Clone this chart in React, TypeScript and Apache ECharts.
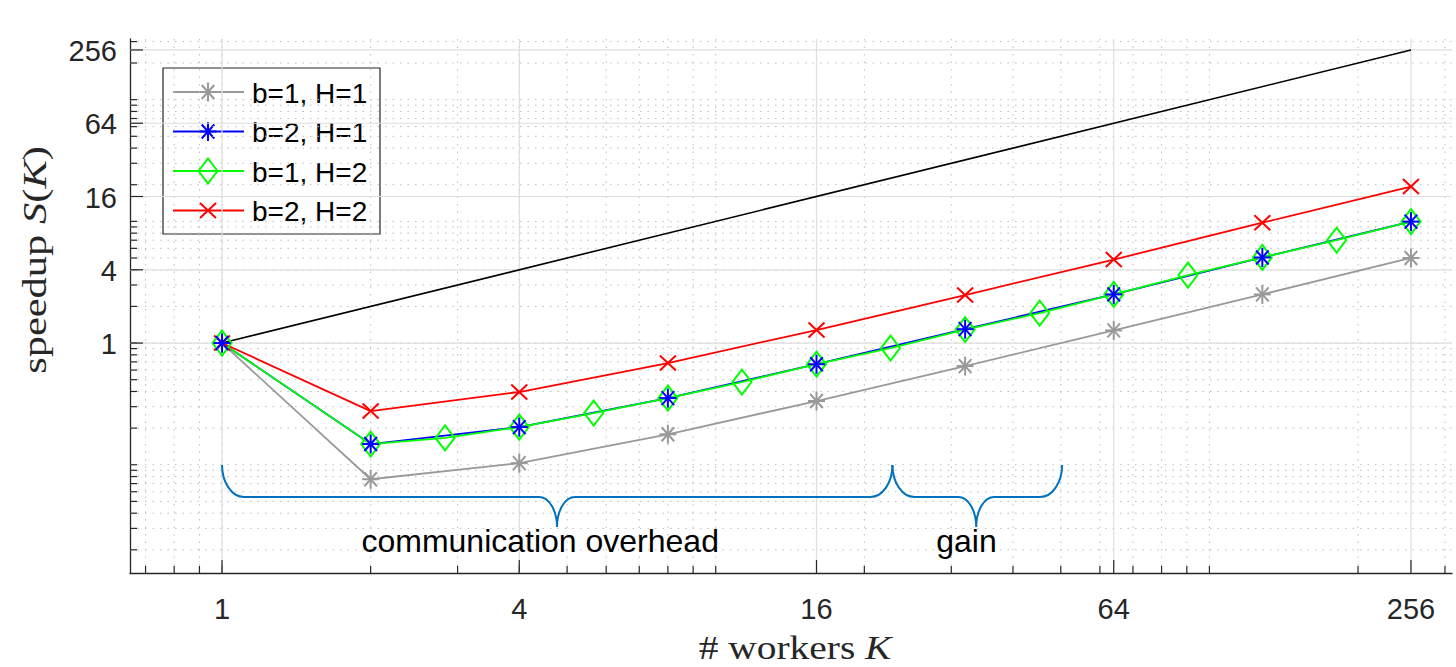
import { useEffect, useRef } from "react";
import * as echarts from "echarts";

// ---------------- data ----------------
const kCoarse = [1, 2, 4, 8, 16, 32, 64, 128, 256];
const kFine = [1, 2, 2.83, 4, 5.66, 8, 11.3, 16, 22.6, 32, 45.3, 64, 90.5, 128, 181, 256];
const speedupB1H1 = [1, 0.076, 0.103, 0.178, 0.334, 0.647, 1.27, 2.51, 5.0];
const speedupB2H1 = [1, 0.148, 0.204, 0.353, 0.67, 1.3, 2.51, 5.05, 9.95];
const speedupB1H2 = [1, 0.148, 0.166, 0.204, 0.266, 0.353, 0.478, 0.67, 0.91, 1.29, 1.76, 2.51, 3.62, 5.05, 7.0, 9.95];
const speedupB2H2 = [1, 0.276, 0.396, 0.685, 1.28, 2.48, 4.85, 9.75, 19.3];
const kIdeal = [1, 256];
const speedupIdeal = [1, 256];

const seriesNames = ["b=1, H=1", "b=2, H=1", "b=1, H=2", "b=2, H=2"];

const xMajorTicks = [1, 4, 16, 64, 256];
const yMajorTicks = [1, 4, 16, 64, 256];
const xMinorTicks = [0.7, 0.8, 0.9, 1, 2, 3, 4, 5, 6, 7, 8, 9, 10, 20, 30, 40, 50, 60, 70, 80, 90, 100, 200, 300];
const yMinorTicks = [
  0.02, 0.03, 0.04, 0.05, 0.06, 0.07, 0.08, 0.09, 0.1, 0.2, 0.3, 0.4, 0.5, 0.6, 0.7, 0.8, 0.9,
  1, 2, 3, 4, 5, 6, 7, 8, 9, 10, 20, 30, 40, 50, 60, 70, 80, 90, 100, 200, 300,
];

const xTitle = "# workers ";
const xTitleVar = "K";
const yTitle = "speedup ";

// annotation braces (data coordinates): left, right, tip
const braceLabels = ["communication overhead", "gain"];
const braceLeft = [1, 22.8];
const braceRight = [22.8, 50.3];
const braceTip = [4.77, 33.7];
const braceLabelX = [4.41, 32.2];

// ---------------- layout / style ----------------
const X_MIN = 0.651;
const X_MAX = 310;
const Y_MIN = 0.0129;
const Y_MAX = 315;
const BRACE_TOP = 0.0994;
const BRACE_BAR = 0.0543;
const BRACE_TIP = 0.0308;
const BRACE_TEXT_Y = 0.0236;

const AXIS = "#262626";
const MAJOR_GRID = "#dedede";
const MINOR_GRID = "#bdbdbd";
const GRAY = "#999999";
const BLUE = "#0000ff";
const GREEN = "#00ff00";
const RED = "#ff0000";
const BRACE = "#0072bd";
const SANS = "'Liberation Sans', Arial, Helvetica, sans-serif";
const SERIF = "'Liberation Serif', 'Times New Roman', serif";
const LW = 1.8;
const MW = 2;

type Kind = "asterisk" | "diamond" | "cross";

function markerEls(kind: Kind, cx: number, cy: number, color: string): any[] {
  const st = () => ({ stroke: color, lineWidth: MW, fill: "none" });
  if (kind === "asterisk") {
    const w = 8.5, h = 9.5, dw = 6.3, dh = 7;
    return [
      { type: "line", shape: { x1: cx, y1: cy - h, x2: cx, y2: cy + h }, style: st() },
      { type: "line", shape: { x1: cx - w, y1: cy, x2: cx + w, y2: cy }, style: st() },
      { type: "line", shape: { x1: cx - dw, y1: cy - dh, x2: cx + dw, y2: cy + dh }, style: st() },
      { type: "line", shape: { x1: cx - dw, y1: cy + dh, x2: cx + dw, y2: cy - dh }, style: st() },
    ];
  }
  if (kind === "cross") {
    const w = 8, h = 7.5;
    return [
      { type: "line", shape: { x1: cx - w, y1: cy - h, x2: cx + w, y2: cy + h }, style: st() },
      { type: "line", shape: { x1: cx - w, y1: cy + h, x2: cx + w, y2: cy - h }, style: st() },
    ];
  }
  const w = 9.5, h = 12.5;
  return [
    {
      type: "polygon",
      shape: { points: [[cx, cy - h], [cx + w, cy], [cx, cy + h], [cx - w, cy]] },
      style: st(),
    },
  ];
}

function lineSeries(ks: number[], vs: number[], color: string, width = LW) {
  return {
    type: "line",
    data: ks.map((k, i) => [k, vs[i]]),
    showSymbol: false,
    symbol: "none",
    silent: true,
    z: 3,
    lineStyle: { color, width },
  };
}

function markerSeries(ks: number[], vs: number[], kind: Kind, color: string) {
  return {
    type: "custom",
    coordinateSystem: "cartesian2d",
    silent: true,
    clip: false,
    z: 4,
    data: ks.map((k, i) => [k, vs[i]]),
    encode: { x: 0, y: 1 },
    renderItem: (_p: any, api: any) => {
      const pt = api.coord([api.value(0), api.value(1)]);
      return { type: "group", children: markerEls(kind, pt[0], pt[1], color) };
    },
  };
}

function labelText(text: string, x: number, y: number, align: string, vAlign: string, size: number, font = SANS) {
  return {
    type: "text",
    x,
    y,
    style: {
      text,
      fontFamily: font,
      fontSize: size,
      fill: AXIS,
      align,
      verticalAlign: vAlign,
      textAlign: align,
      textVerticalAlign: vAlign,
    },
  };
}

export default function App() {
  const ref = useRef<HTMLDivElement>(null);

  useEffect(() => {
    if (!ref.current) return;
    const chart = echarts.init(ref.current, null, { renderer: "svg" });

    const xMinorSeries = {
      type: "custom",
      coordinateSystem: "cartesian2d",
      silent: true,
      clip: false,
      z: 1,
      data: xMinorTicks.map((v) => [v, 1]),
      encode: { x: 0, y: 1 },
      renderItem: (_p: any, api: any) => {
        const v = api.value(0);
        const top = api.coord([v, Y_MAX]);
        const bot = api.coord([v, Y_MIN]);
        return {
          type: "group",
          children: [
            { type: "line", shape: { x1: top[0], y1: top[1], x2: bot[0], y2: bot[1] }, style: { stroke: MINOR_GRID, lineWidth: 1, lineDash: [1.5, 6] } },
            { type: "line", shape: { x1: bot[0], y1: bot[1], x2: bot[0], y2: bot[1] - 7 }, style: { stroke: AXIS, lineWidth: 1.2 } },
          ],
        };
      },
    };

    const yMinorSeries = {
      type: "custom",
      coordinateSystem: "cartesian2d",
      silent: true,
      clip: false,
      z: 1,
      data: yMinorTicks.map((v) => [1, v]),
      encode: { x: 0, y: 1 },
      renderItem: (_p: any, api: any) => {
        const v = api.value(1);
        const l = api.coord([X_MIN, v]);
        const r = api.coord([X_MAX, v]);
        return {
          type: "group",
          children: [
            { type: "line", shape: { x1: l[0], y1: l[1], x2: r[0], y2: r[1] }, style: { stroke: MINOR_GRID, lineWidth: 1, lineDash: [1.5, 6] } },
            { type: "line", shape: { x1: l[0], y1: l[1], x2: l[0] + 7, y2: l[1] }, style: { stroke: AXIS, lineWidth: 1.2 } },
          ],
        };
      },
    };

    const xMajorSeries = {
      type: "custom",
      coordinateSystem: "cartesian2d",
      silent: true,
      clip: false,
      z: 2,
      data: xMajorTicks.map((v) => [v, 1]),
      encode: { x: 0, y: 1 },
      renderItem: (_p: any, api: any) => {
        const v = api.value(0);
        const top = api.coord([v, Y_MAX]);
        const bot = api.coord([v, Y_MIN]);
        return {
          type: "group",
          children: [
            { type: "line", shape: { x1: top[0], y1: top[1], x2: bot[0], y2: bot[1] }, style: { stroke: MAJOR_GRID, lineWidth: 1.2 } },
            { type: "line", shape: { x1: bot[0], y1: bot[1], x2: bot[0], y2: bot[1] - 13 }, style: { stroke: AXIS, lineWidth: 1.2 } },
            labelText(String(v), bot[0], bot[1] + 36, "center", "middle", 29),
          ],
        };
      },
    };

    const yMajorSeries = {
      type: "custom",
      coordinateSystem: "cartesian2d",
      silent: true,
      clip: false,
      z: 2,
      data: yMajorTicks.map((v) => [1, v]),
      encode: { x: 0, y: 1 },
      renderItem: (_p: any, api: any) => {
        const v = api.value(1);
        const l = api.coord([X_MIN, v]);
        const r = api.coord([X_MAX, v]);
        return {
          type: "group",
          children: [
            { type: "line", shape: { x1: l[0], y1: l[1], x2: r[0], y2: r[1] }, style: { stroke: MAJOR_GRID, lineWidth: 1.2 } },
            { type: "line", shape: { x1: l[0], y1: l[1], x2: l[0] + 13, y2: l[1] }, style: { stroke: AXIS, lineWidth: 1.2 } },
            labelText(String(v), l[0] - 13, l[1] + 1, "right", "middle", 29),
          ],
        };
      },
    };

    const braceSeries = {
      type: "custom",
      coordinateSystem: "cartesian2d",
      silent: true,
      clip: false,
      z: 5,
      data: braceLabels.map((_, i) => [braceLeft[i], BRACE_TOP, braceRight[i], braceTip[i], braceLabelX[i]]),
      encode: { x: 0, y: 1 },
      renderItem: (params: any, api: any) => {
        const i = params.dataIndex;
        const [xl, yt] = api.coord([api.value(0), BRACE_TOP]);
        const xr = api.coord([api.value(2), BRACE_TOP])[0];
        const [xm, yb] = api.coord([api.value(3), BRACE_BAR]);
        const yp = api.coord([api.value(3), BRACE_TIP])[1];
        const tx = api.coord([api.value(4), BRACE_TEXT_Y]);
        const k = 0.5523;
        const rx = 22, rm = 18;
        const ry = yb - yt, rp = yp - yb;
        const d =
          `M${xl},${yt} C${xl},${yt + k * ry} ${xl + rx * (1 - k)},${yb} ${xl + rx},${yb} ` +
          `L${xm - rm},${yb} C${xm - rm + k * rm},${yb} ${xm},${yp - k * rp} ${xm},${yp} ` +
          `C${xm},${yp - k * rp} ${xm + rm * (1 - k)},${yb} ${xm + rm},${yb} ` +
          `L${xr - rx},${yb} C${xr - rx * (1 - k)},${yb} ${xr},${yt + k * ry} ${xr},${yt}`;
        return {
          type: "group",
          children: [
            { type: "path", shape: { pathData: d }, style: { stroke: BRACE, lineWidth: 2, fill: "none" } },
            {
              type: "text",
              x: tx[0],
              y: tx[1],
              style: {
                text: braceLabels[i],
                fontFamily: SANS,
                fontSize: 32,
                fill: "#000000",
                align: "center",
                verticalAlign: "middle",
                textAlign: "center",
                textVerticalAlign: "middle",
              },
            },
          ],
        };
      },
    };

    // legend
    const legendKinds: Kind[] = ["asterisk", "asterisk", "diamond", "cross"];
    const legendColors = [GRAY, BLUE, GREEN, RED];
    const legendRows = [92, 131.5, 171, 210.5];
    const legendChildren: any[] = [
      { type: "rect", shape: { x: 163, y: 68, width: 217, height: 166 }, style: { fill: "#ffffff", stroke: AXIS, lineWidth: 1.2 } },
    ];
    seriesNames.forEach((name, i) => {
      const y = legendRows[i];
      legendChildren.push({ type: "line", shape: { x1: 173, y1: y, x2: 244, y2: y }, style: { stroke: legendColors[i], lineWidth: LW } });
      markerEls(legendKinds[i], 208, y, legendColors[i]).forEach((e) => legendChildren.push(e));
      legendChildren.push({
        type: "text",
        x: 252,
        y: y + 1,
        style: { text: name, fontFamily: SANS, fontSize: 28, fill: "#000000", align: "left", verticalAlign: "middle", textAlign: "left", textVerticalAlign: "middle" },
      });
    });

    const richBase = { fontFamily: SERIF, fontSize: 34, lineHeight: 34, fill: AXIS };
    const richIt = { fontFamily: SERIF, fontSize: 34, lineHeight: 34, fill: AXIS, fontStyle: "italic" };

    chart.setOption({
      animation: false,
      backgroundColor: "#ffffff",
      grid: { left: 130, right: 4, top: 39, bottom: 94, containLabel: false },
      xAxis: {
        type: "log",
        logBase: 2,
        min: X_MIN,
        max: X_MAX,
        axisLine: { show: true, onZero: false, lineStyle: { color: AXIS, width: 1.3 } },
        axisTick: { show: false },
        axisLabel: { show: false },
        splitLine: { show: false },
        minorTick: { show: false },
        minorSplitLine: { show: false },
      },
      yAxis: {
        type: "log",
        logBase: 2,
        min: Y_MIN,
        max: Y_MAX,
        axisLine: { show: true, onZero: false, lineStyle: { color: AXIS, width: 1.3 } },
        axisTick: { show: false },
        axisLabel: { show: false },
        splitLine: { show: false },
        minorTick: { show: false },
        minorSplitLine: { show: false },
      },
      series: [
        yMinorSeries,
        xMinorSeries,
        yMajorSeries,
        xMajorSeries,
        lineSeries(kCoarse, speedupB1H1, GRAY),
        lineSeries(kCoarse, speedupB2H1, BLUE),
        lineSeries(kFine, speedupB1H2, GREEN),
        lineSeries(kCoarse, speedupB2H2, RED),
        lineSeries(kIdeal, speedupIdeal, "#000000", 1.6),
        markerSeries(kCoarse, speedupB1H1, "asterisk", GRAY),
        markerSeries(kCoarse, speedupB2H2, "cross", RED),
        markerSeries(kFine, speedupB1H2, "diamond", GREEN),
        markerSeries(kCoarse, speedupB2H1, "asterisk", BLUE),
        braceSeries,
      ],
      graphic: [
        { type: "group", z: 10, children: legendChildren },
        {
          type: "text",
          z: 10,
          x: 795,
          y: 647,
          scaleX: 1.16,
          style: {
            text: `{r|${xTitle}}{i|${xTitleVar}}`,
            rich: { r: richBase, i: richIt },
            align: "center",
            verticalAlign: "middle",
            textAlign: "center",
            textVerticalAlign: "middle",
          },
        },
        {
          type: "text",
          z: 10,
          x: 35,
          y: 260,
          rotation: Math.PI / 2,
          scaleX: 1.25,
          style: {
            text: `{r|${yTitle}}{i|S}{r|(}{i|K}{r|)}`,
            rich: { r: richBase, i: richIt },
            align: "center",
            verticalAlign: "middle",
            textAlign: "center",
            textVerticalAlign: "middle",
          },
        },
      ],
    });

    return () => chart.dispose();
  }, []);

  return (
    <div
      ref={ref}
      style={{ position: "fixed", left: 0, top: 0, width: 1456, height: 667, background: "#fff" }}
    />
  );
}
